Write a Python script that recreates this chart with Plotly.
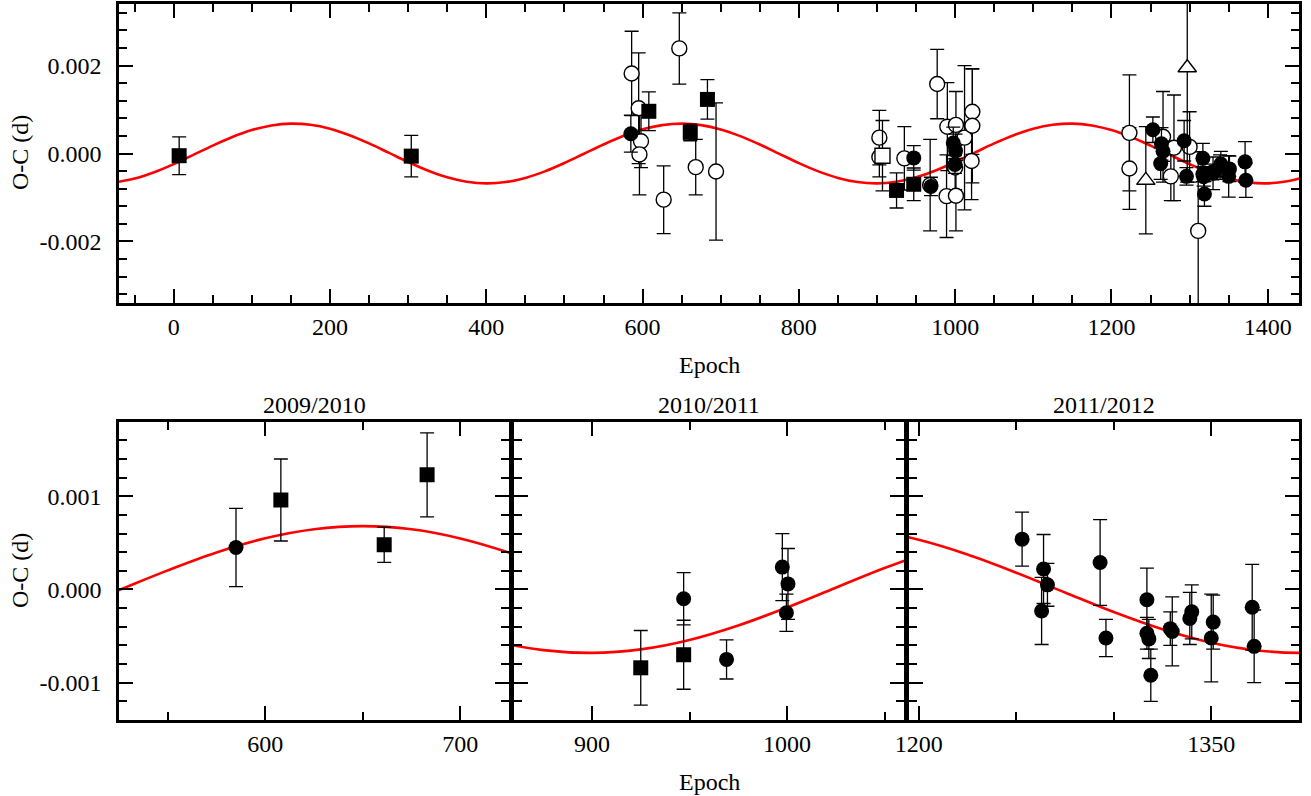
import plotly.graph_objects as go

# ---------------- data ----------------
# fitted light-time curve, sampled
CURVE_EPOCH = [-75, -50, -25, 0, 25, 50, 75, 100, 125, 150, 175, 200, 225, 250, 275,
               300, 325, 350, 375, 400, 425, 450, 475, 500, 525, 550, 575, 600, 625,
               650, 675, 700, 725, 750, 775, 800, 825, 850, 875, 900, 925, 950, 975,
               1000, 1025, 1050, 1075, 1100, 1125, 1150, 1175, 1200, 1225, 1250, 1275,
               1300, 1325, 1350, 1375, 1400, 1425, 1450]
CURVE_OC = [-0.000657, -0.000571, -0.000427, -0.000242, -0.000032, 0.000180, 0.000375,
            0.000533, 0.000638, 0.000680, 0.000654, 0.000564, 0.000417, 0.000230,
            0.000019, -0.000193, -0.000386, -0.000541, -0.000642, -0.000680, -0.000650,
            -0.000556, -0.000407, -0.000217, -0.000006, 0.000205, 0.000397, 0.000549,
            0.000646, 0.000680, 0.000646, 0.000548, 0.000396, 0.000205, -0.000007,
            -0.000218, -0.000407, -0.000556, -0.000650, -0.000680, -0.000642, -0.000541,
            -0.000386, -0.000193, 0.000019, 0.000230, 0.000417, 0.000564, 0.000654,
            0.000680, 0.000638, 0.000533, 0.000375, 0.000180, -0.000032, -0.000242,
            -0.000427, -0.000571, -0.000657, -0.000679, -0.000633, -0.000525]

# filled squares
SQ_EPOCH = [7, 304, 608, 661, 683, 925, 947]
SQ_OC = [-0.00005, -0.00006, 0.00096, 0.00048, 0.00123, -0.00084, -0.00070]
SQ_ERR = [0.00043, 0.00047, 0.00044, 0.00019, 0.00045, 0.00040, 0.00037]

# filled circles
FC_EPOCH = [585, 947, 969, 997.6, 1000.5, 999.7, 1253, 1264, 1266, 1263, 1293, 1296,
            1317, 1317, 1318, 1319, 1329, 1330, 1339, 1340, 1351, 1350, 1371, 1372]
FC_OC = [0.00045, -0.00010, -0.00075, 0.00024, 0.00006, -0.00025, 0.00054, 0.00022,
         0.00005, -0.00023, 0.00029, -0.00052, -0.00011, -0.00047, -0.00053, -0.00092,
         -0.00042, -0.00045, -0.00031, -0.00024, -0.00035, -0.00052, -0.00019, -0.00061]
FC_ERR = [0.00042, 0.00028, 0.00021, 0.00036, 0.00038, 0.00020, 0.00029, 0.00037,
          0.00023, 0.00036, 0.00046, 0.00020, 0.00034, 0.00017, 0.00021, 0.00028,
          0.00018, 0.00037, 0.00028, 0.00029, 0.00029, 0.00047, 0.00046, 0.00039]

# open circles
OC_EPOCH = [586, 595, 598, 596, 647, 627, 668, 694, 903, 903, 935, 968, 977, 990, 1001,
            1012, 1022, 1022, 1021, 989, 1001, 1000, 1223, 1223, 1266, 1280, 1276, 1300,
            1311]
OC_OC = [0.00182, 0.00103, 0.00028, -0.00002, 0.00239, -0.00105, -0.00031, -0.00041,
         0.00036, -0.00008, -0.00011, -0.00072, 0.00158, 0.00061, 0.00065, 0.00036,
         0.00095, 0.00063, -0.00017, -0.00097, -0.00096, -0.00032, 0.00047, -0.00034,
         0.00038, 0.00013, -0.00052, 0.00015, -0.00176]
OC_ERR = [0.00096, 0.00126, 0.00060, 0.00092, 0.00081, 0.00077, 0.00063, 0.00156,
          0.00062, 0.00045, 0.00072, 0.00104, 0.00079, 0.00100, 0.00076, 0.00164,
          0.00097, 0.00130, 0.00088, 0.00094, 0.00080, 0.00050, 0.00132, 0.00093,
          0.00103, 0.00120, 0.00055, 0.00080, 0.00180]

# open square
OS_EPOCH = [907]
OS_OC = [-0.00005]
OS_ERR = [0.00080]

# open triangles
OT_EPOCH = [1244, 1297]
OT_OC = [-0.00061, 0.00195]
OT_ERR = [0.00122, 0.00260]

SEASONS = ["2009/2010", "2010/2011", "2011/2012"]
TOP_YTICKS = [-0.002, 0.0, 0.002]
TOP_YTICKTEXT = ["-0.002", "0.000", "0.002"]
BOT_YTICKS = [-0.001, 0.0, 0.001]
BOT_YTICKTEXT = ["-0.001", "0.000", "0.001"]

# ---------------- figure ----------------
W, H = 1311, 796
FONT = "Liberation Serif"
FS = 24


def px_x(a, b):
    return [a / W, b / W]


def px_y(top, bottom):
    return [1 - bottom / H, 1 - top / H]


fig = go.Figure()

err_style = dict(type="data", color="black", thickness=1.3, width=7)


def add_points(xa, ya, show_open):
    if show_open:
        fig.add_trace(go.Scatter(
            x=OC_EPOCH, y=OC_OC, mode="markers", xaxis=xa, yaxis=ya,
            error_y=dict(array=OC_ERR, **err_style),
            marker=dict(symbol="circle", size=15, color="white",
                        line=dict(color="black", width=1.4)),
            showlegend=False))
        fig.add_trace(go.Scatter(
            x=OS_EPOCH, y=OS_OC, mode="markers", xaxis=xa, yaxis=ya,
            error_y=dict(array=OS_ERR, **err_style),
            marker=dict(symbol="square", size=15, color="white",
                        line=dict(color="black", width=1.4)),
            showlegend=False))
        fig.add_trace(go.Scatter(
            x=OT_EPOCH, y=OT_OC, mode="markers", xaxis=xa, yaxis=ya,
            error_y=dict(array=OT_ERR, **err_style),
            marker=dict(symbol="triangle-up", size=16, color="white",
                        line=dict(color="black", width=1.4)),
            showlegend=False))
    fig.add_trace(go.Scatter(
        x=FC_EPOCH, y=FC_OC, mode="markers", xaxis=xa, yaxis=ya,
        error_y=dict(array=FC_ERR, **err_style),
        marker=dict(symbol="circle", size=15, color="black",
                    line=dict(color="black", width=0)),
        showlegend=False))
    fig.add_trace(go.Scatter(
        x=SQ_EPOCH, y=SQ_OC, mode="markers", xaxis=xa, yaxis=ya,
        error_y=dict(array=SQ_ERR, **err_style),
        marker=dict(symbol="square", size=15, color="black",
                    line=dict(color="black", width=0)),
        showlegend=False))


def add_curve(xa, ya):
    fig.add_trace(go.Scatter(
        x=CURVE_EPOCH, y=CURVE_OC, mode="lines", xaxis=xa, yaxis=ya,
        line=dict(color="#ff0000", width=2.6, shape="spline"),
        hoverinfo="skip", showlegend=False))


add_curve("x", "y")
add_points("x", "y", True)
for k in (2, 3, 4):
    add_curve(f"x{k}", f"y{k}")
    add_points(f"x{k}", f"y{k}", False)

axis_common = dict(
    showline=True, linecolor="black", linewidth=2.6, mirror="allticks",
    ticks="inside", ticklen=14, tickwidth=2.4, tickcolor="black",
    showgrid=False, zeroline=False, automargin=False,
    tickfont=dict(family=FONT, size=FS, color="black"),
)
minor_common = dict(ticks="inside", ticklen=8, tickwidth=2.4, tickcolor="black")

top_dom_y = px_y(4, 303)
bot_dom_y = px_y(421.7, 720)

fig.update_layout(
    template="none",
    width=W, height=H, autosize=False,
    margin=dict(l=0, r=0, t=0, b=0, pad=0),
    paper_bgcolor="white", plot_bgcolor="white",
    font=dict(family=FONT, size=FS, color="black"),
    showlegend=False,
    xaxis=dict(domain=px_x(119, 1299), anchor="y", range=[-70, 1440],
               tickmode="linear", tick0=0, dtick=200,
               minor=dict(tick0=0, dtick=50, **minor_common),
               ticklabelstandoff=0, **axis_common),
    yaxis=dict(domain=top_dom_y, anchor="x", range=[-0.0034, 0.0034],
               tickmode="array", tickvals=TOP_YTICKS, ticktext=TOP_YTICKTEXT,
               minor=dict(tick0=0, dtick=0.0004, **minor_common),
               ticklabelstandoff=10, **axis_common),
    xaxis2=dict(domain=px_x(119, 509), anchor="y2", range=[525, 725],
                tickmode="linear", tick0=600, dtick=100,
                minor=dict(tick0=550, dtick=50, **minor_common),
                ticklabelstandoff=0, **axis_common),
    yaxis2=dict(domain=bot_dom_y, anchor="x2", range=[-0.0014, 0.0018],
                tickmode="array", tickvals=BOT_YTICKS, ticktext=BOT_YTICKTEXT,
                minor=dict(tick0=0, dtick=0.0002, **minor_common),
                ticklabelstandoff=10, **axis_common),
    xaxis3=dict(domain=px_x(514, 904), anchor="y3", range=[860, 1060],
                tickmode="linear", tick0=900, dtick=100,
                minor=dict(tick0=850, dtick=50, **minor_common),
                ticklabelstandoff=0, **axis_common),
    yaxis3=dict(domain=bot_dom_y, anchor="x3", range=[-0.0014, 0.0018],
                tickmode="array", tickvals=BOT_YTICKS, showticklabels=False,
                minor=dict(tick0=0, dtick=0.0002, **minor_common),
                **axis_common),
    xaxis4=dict(domain=px_x(909, 1299), anchor="y4", range=[1195, 1395],
                tickmode="linear", tick0=1200, dtick=150,
                minor=dict(tick0=1200, dtick=50, **minor_common),
                ticklabelstandoff=0, **axis_common),
    yaxis4=dict(domain=bot_dom_y, anchor="x4", range=[-0.0014, 0.0018],
                tickmode="array", tickvals=BOT_YTICKS, showticklabels=False,
                minor=dict(tick0=0, dtick=0.0002, **minor_common),
                **axis_common),
)

ann_font = dict(family=FONT, size=FS, color="black")
annotations = [
    dict(text="Epoch", x=709 / W, y=1 - 365 / H, xref="paper", yref="paper",
         showarrow=False, font=ann_font, xanchor="center", yanchor="middle"),
    dict(text="Epoch", x=709 / W, y=1 - 782 / H, xref="paper", yref="paper",
         showarrow=False, font=ann_font, xanchor="center", yanchor="middle"),
    dict(text="O-C (d)", x=20 / W, y=1 - 153 / H, xref="paper", yref="paper",
         showarrow=False, font=ann_font, textangle=-90, xanchor="center", yanchor="middle"),
    dict(text="O-C (d)", x=20 / W, y=1 - 571 / H, xref="paper", yref="paper",
         showarrow=False, font=ann_font, textangle=-90, xanchor="center", yanchor="middle"),
]
panel_centers = [(119 + 509) / 2, (514 + 904) / 2, (909 + 1299) / 2]
for name, cx in zip(SEASONS, panel_centers):
    annotations.append(dict(text=name, x=cx / W, y=1 - 405 / H, xref="paper", yref="paper",
                            showarrow=False, font=ann_font, xanchor="center",
                            yanchor="middle"))
fig.update_layout(annotations=annotations)

fig.write_html("out.html",
               config={"displayModeBar": False},
               post_script="document.body.style.margin='0';document.body.style.overflow='hidden';")
